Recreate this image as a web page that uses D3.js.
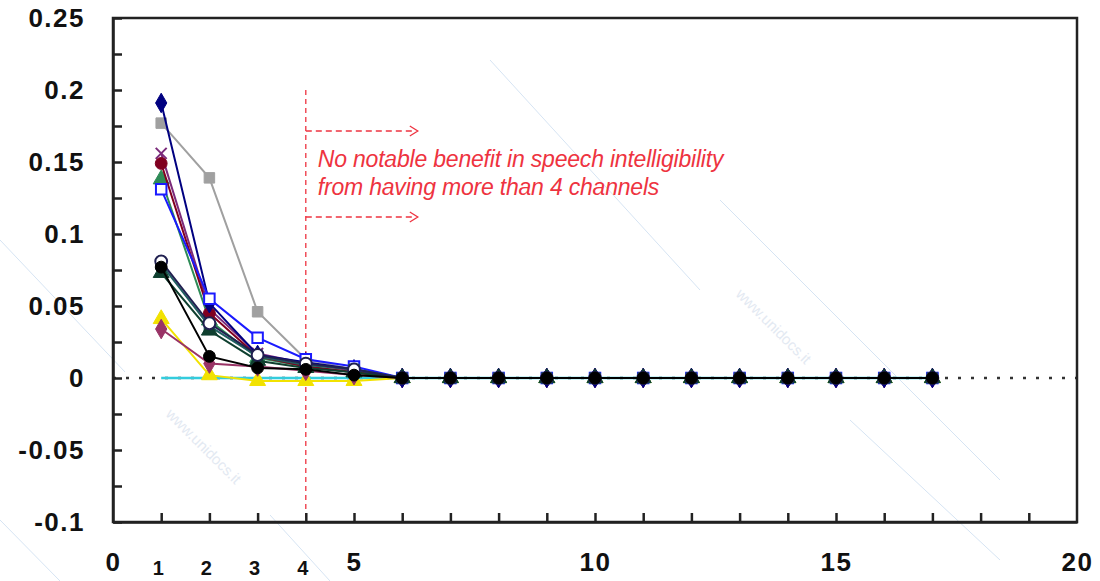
<!DOCTYPE html>
<html>
<head>
<meta charset="utf-8">
<script src="https://cdn.jsdelivr.net/npm/d3@7"></script>
<style>
  body { margin: 0; background: #fff; }
  svg { display: block; font-family: "Liberation Sans", Arial, sans-serif; }
</style>
</head>
<body>
<div id="chart"></div>
<script>
// channels on the x axis
var channels = [1, 2, 3, 4, 5, 6, 7, 8, 9, 10, 11, 12, 13, 14, 15, 16, 17];
var zeros = [0, 0, 0, 0, 0, 0, 0, 0, 0, 0, 0, 0];

// series values for channels 1..5 (6..17 are all zero)
var navyDiamond   = [0.191, 0.052, 0.016, 0.011, 0.006].concat(zeros);
var graySquare    = [0.177, 0.139, 0.046, 0.013, 0.006].concat(zeros);
var purpleCross   = [0.156, 0.048, 0.017, 0.010, 0.005].concat(zeros);
var redCircle     = [0.149, 0.045, 0.015, 0.008, 0.004].concat(zeros);
var greenTriangle = [0.138, 0.040, 0.014, 0.008, 0.004].concat(zeros);
var blueOpenSq    = [0.131, 0.055, 0.028, 0.013, 0.008].concat(zeros);
var navyCircle    = [0.081, 0.038, 0.016, 0.010, 0.006].concat(zeros);
var tealSquare    = [0.079, 0.036, 0.015, 0.009, 0.006].concat(zeros);
var darkTriangle  = [0.073, 0.033, 0.012, 0.007, 0.004].concat(zeros);
var blackCircle   = [0.077, 0.015, 0.007, 0.006, 0.002].concat(zeros);
var yellowTri     = [0.041, 0.002, -0.002, -0.002, -0.002].concat(zeros);
var plumDiamond   = [0.034, 0.010, 0.008, 0.005, 0.002].concat(zeros);
var cyanLine      = [0, 0, 0, 0, 0].concat(zeros);

var yTicks = [-0.1, -0.05, 0, 0.05, 0.1, 0.15, 0.2, 0.25];
var yMinor = [-0.075, -0.025, 0.025, 0.075, 0.125, 0.175, 0.225];
var xTicks = [0, 5, 10, 15, 20];
var xExtraLabels = [1, 2, 3, 4];
var cutoff = 4;
var noteLines = ["No notable benefit in speech intelligibility", "from having more than 4 channels"];

var series = [
  { values: cyanLine,      color: "#33ccdd", shape: null,     open: false },
  { values: yellowTri,     color: "#f2e200", shape: "tri",    open: false },
  { values: plumDiamond,   color: "#993366", shape: "dia",    open: false },
  { values: graySquare,    color: "#a0a0a0", shape: "sq",     open: false },
  { values: greenTriangle, color: "#2e8b57", shape: "tri",    open: false },
  { values: purpleCross,   color: "#7b2a7b", shape: "cross",  open: false },
  { values: redCircle,     color: "#800020", shape: "circ",   open: false },
  { values: navyDiamond,   color: "#000080", shape: "dia",    open: false },
  { values: blueOpenSq,    color: "#1a1aff", shape: "sq",     open: true },
  { values: tealSquare,    color: "#1f5f5f", shape: "sq",     open: false },
  { values: darkTriangle,  color: "#0f3f2f", shape: "tri",    open: false },
  { values: navyCircle,    color: "#202050", shape: "circ",   open: true },
  { values: blackCircle,   color: "#000000", shape: "circ",   open: false }
];

var W = 1100, H = 581;
var svg = d3.select("#chart").append("svg").attr("width", W).attr("height", H);

var x = d3.scaleLinear().domain([0, 20]).range([113, 1077]);
var y = d3.scaleLinear().domain([-0.1, 0.25]).range([522, 18]);

// faint watermark
var wm = svg.append("g").attr("stroke", "#d6e4f3").attr("stroke-width", 1);
[[0, 240, 125, 372], [490, 60, 700, 290], [270, 515, 330, 581], [720, 200, 1000, 480], [850, 420, 1000, 560], [0, 520, 60, 581]]
  .forEach(function (l) {
    wm.append("line").attr("x1", l[0]).attr("y1", l[1]).attr("x2", l[2]).attr("y2", l[3]);
  });
[[770, 330], [200, 450]].forEach(function (p) {
  svg.append("text").attr("transform", "translate(" + p[0] + "," + p[1] + ") rotate(45)")
    .attr("text-anchor", "middle").attr("font-size", 15).attr("fill", "#e3e9f2")
    .text("www.unidocs.it");
});

// zero reference (dotted)
svg.append("line")
  .attr("x1", x(0)).attr("x2", x(20)).attr("y1", y(0)).attr("y2", y(0))
  .attr("stroke", "#333").attr("stroke-width", 2.5).attr("stroke-dasharray", "3,10");

// cutoff line and annotation
var red = "#ee3340";
svg.append("line")
  .attr("x1", x(cutoff)).attr("x2", x(cutoff)).attr("y1", 90).attr("y2", y(-0.1))
  .attr("stroke", red).attr("stroke-width", 1.3).attr("stroke-dasharray", "5,4");
[131, 217].forEach(function (yy) {
  svg.append("line")
    .attr("x1", x(cutoff)).attr("x2", x(cutoff) + 110).attr("y1", yy).attr("y2", yy)
    .attr("stroke", red).attr("stroke-width", 1.3).attr("stroke-dasharray", "6,4");
  svg.append("path")
    .attr("d", "M" + (x(cutoff) + 104) + "," + (yy - 5) + "L" + (x(cutoff) + 112) + "," + yy + "L" + (x(cutoff) + 104) + "," + (yy + 5))
    .attr("fill", "none").attr("stroke", red).attr("stroke-width", 1.3);
});
noteLines.forEach(function (t, i) {
  svg.append("text")
    .attr("x", x(cutoff) + 12).attr("y", 167 + i * 28)
    .attr("font-size", 23).attr("font-style", "italic").attr("fill", red)
    .attr("letter-spacing", -0.2)
    .text(t);
});

// series
var line = d3.line().x(function (d, i) { return x(channels[i]); }).y(function (d) { return y(d); });
var shapes = { tri: d3.symbolTriangle, dia: d3.symbolDiamond, sq: d3.symbolSquare, circ: d3.symbolCircle, cross: d3.symbolTimes };

series.forEach(function (s) {
  svg.append("path")
    .attr("d", line(s.values))
    .attr("fill", "none")
    .attr("stroke", s.color)
    .attr("stroke-width", s.shape ? 2 : 2.5);
  if (!s.shape) return;
  var sym = d3.symbol().type(shapes[s.shape]).size(s.shape === "cross" ? 80 : 110);
  svg.append("g").selectAll("path")
    .data(s.values)
    .enter().append("path")
      .attr("transform", function (d, i) { return "translate(" + x(channels[i]) + "," + y(d) + ")"; })
      .attr("d", sym)
      .attr("fill", s.open || s.shape === "cross" ? (s.open ? "#fff" : "none") : s.color)
      .attr("stroke", s.color)
      .attr("stroke-width", s.open || s.shape === "cross" ? 2 : 1);
});

// frame
svg.append("rect")
  .attr("x", x(0)).attr("y", y(0.25))
  .attr("width", x(20) - x(0)).attr("height", y(-0.1) - y(0.25))
  .attr("fill", "none").attr("stroke", "#222").attr("stroke-width", 2.5);

// y axis with inside ticks
svg.append("g")
  .attr("transform", "translate(" + x(0) + ",0)")
  .call(d3.axisLeft(y).tickValues(yTicks).tickSizeInner(-9).tickSizeOuter(0).tickPadding(28)
    .tickFormat(function (d) { return String(+d.toFixed(2)); }));
svg.append("g")
  .attr("transform", "translate(" + x(0) + ",0)")
  .call(d3.axisLeft(y).tickValues(yMinor).tickSizeInner(-9).tickSizeOuter(0).tickFormat(""))
  .call(function (g) { g.select(".domain").remove(); });

// x axis with inside ticks
svg.append("g")
  .attr("transform", "translate(0," + y(-0.1) + ")")
  .call(d3.axisBottom(x).tickValues(d3.range(1, 20)).tickSizeInner(-9).tickSizeOuter(0).tickFormat(""));
svg.append("g")
  .attr("transform", "translate(0," + y(-0.1) + ")")
  .call(d3.axisBottom(x).tickValues(xTicks).tickSize(0).tickPadding(31))
  .call(function (g) { g.select(".domain").remove(); });

svg.selectAll(".tick line, .domain").attr("stroke", "#222").attr("stroke-width", 2.5);
svg.selectAll(".tick text")
  .style("font-size", "26px").style("font-weight", "bold").attr("fill", "#111")
  .attr("letter-spacing", 1.5)
  .attr("font-family", "Liberation Sans, Arial, sans-serif");

// bold labels for the first channels
xExtraLabels.forEach(function (v) {
  svg.append("text")
    .attr("x", x(v) - 3).attr("y", 575)
    .attr("text-anchor", "middle")
    .style("font-size", "20px").style("font-weight", "bold").attr("fill", "#111")
    .text(v);
});
</script>
</body>
</html>
